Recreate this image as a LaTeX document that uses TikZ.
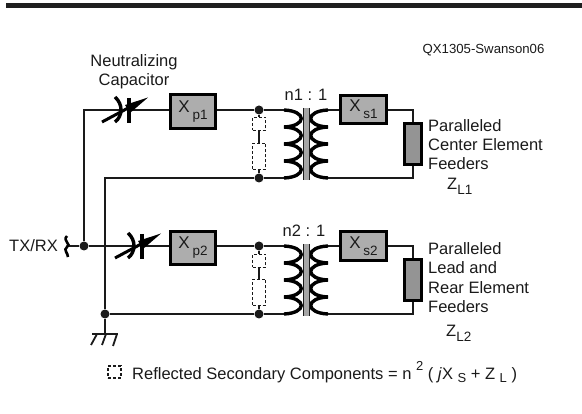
\documentclass[tikz,border=0pt]{standalone}
\usepackage{fontspec}
\setmainfont{Liberation Sans}
\definecolor{ink}{HTML}{1A1A1A}
\tikzset{
 wire/.style={draw=ink,line width=1.8pt},
 lbl/.style={font=\fontsize{16.5}{19.3}\selectfont,text=ink,inner sep=0pt},
 boxx/.style={draw=black,line width=3.2pt,fill=black!32,inner sep=0pt,text=ink,font=\fontsize{17}{18}\selectfont},
 loadbox/.style={draw=black,line width=3.2pt,fill=black!42,inner sep=0pt},
 refl/.style={draw=ink,line width=1.2pt,densely dashed,fill=white,inner sep=0pt},
 dotnode/.style={circle,fill=ink,inner sep=0pt,minimum size=9pt},
 coil/.style={draw=black,line width=3.4pt},
 core/.style={draw=ink,line width=1.6pt},
 plate/.style={draw=black,line width=3.4pt}
}
\newcommand{\subx}[2]{#1\,\raisebox{-7pt}{\fontsize{13.5}{14}\selectfont #2}}
\begin{document}
\begin{tikzpicture}[x=1pt,y=-1pt]
\useasboundingbox (0,0) rectangle (582,414);
\fill[black!88] (6,3.5) rectangle (582,8);
% text
\node[lbl,font=\fontsize{13.2}{15}\selectfont] (tag) at (483.5,50) {QX1305-Swanson06};
\node[lbl,align=center] (neut) at (134,71.5) {Neutralizing\\Capacitor};
\node[lbl] (n1) at (306,95) {n1 : 1};
\node[lbl] (n2) at (304,231) {n2 : 1};
\node[lbl,align=left,anchor=west] (c1) at (428,144.5) {Paralleled\\Center Element\\Feeders};
\node[lbl,anchor=west] (z1) at (447,186) {Z\raisebox{-5pt}{\fontsize{13.5}{14}\selectfont L1}};
\node[lbl,align=left,anchor=west] (c2) at (428,277.5) {Paralleled\\Lead and\\Rear Element\\Feeders};
\node[lbl,anchor=west] (z2) at (446,333) {Z\raisebox{-5pt}{\fontsize{13.5}{14}\selectfont L2}};
\node[lbl,anchor=east] (tx) at (58,246) {TX/RX};
\node[lbl,anchor=west] (eq) at (132,372) {Reflected Secondary Components = n \raisebox{1ex}{\fontsize{13}{14}\selectfont 2} ( \textit{j}X \raisebox{-0.4ex}{\fontsize{13}{14}\selectfont S} + Z \raisebox{-0.4ex}{\fontsize{13}{14}\selectfont L} )};
\node[refl,line width=1.6pt,minimum width=13pt,minimum height=12pt] (key) at (114.5,372) {};
% junction coordinates
\coordinate (txa) at (67,246);
\node[dotnode] (d0) at (84,246) {};
\node[dotnode] (d1) at (259,110) {};
\node[dotnode] (d2) at (259,178) {};
\node[dotnode] (d3) at (259,246) {};
\node[dotnode] (d4) at (259,314) {};
\node[dotnode] (d5) at (105,314) {};
\coordinate (tl) at (84,110);
\coordinate (il) at (105,178);
\coordinate (gnd) at (105,334);
\coordinate (p1t) at (285,110); \coordinate (p1b) at (285,178);
\coordinate (p2t) at (285,246); \coordinate (p2b) at (285,314);
\coordinate (s1t) at (327,110); \coordinate (s1b) at (327,178);
\coordinate (s2t) at (327,246); \coordinate (s2b) at (327,314);
\coordinate (r1t) at (413,110); \coordinate (r1b) at (413,178);
\coordinate (r2t) at (413,246); \coordinate (r2b) at (413,314);
\coordinate (c1a) at (120,110); \coordinate (c1b) at (129,110);
\coordinate (c2a) at (133,246); \coordinate (c2b) at (142,246);
% boxes
\node[boxx,minimum width=45.5pt,minimum height=34pt] (xp1) at (193,111.5) {\subx{X}{p1}};
\node[boxx,minimum width=45.5pt,minimum height=33pt] (xp2) at (193,248) {\subx{X}{p2}};
\node[boxx,minimum width=46.5pt,minimum height=28pt] (xs1) at (363.5,109.5) {\subx{X}{s1}};
\node[boxx,minimum width=46.5pt,minimum height=29pt] (xs2) at (363.5,246) {\subx{X}{s2}};
\node[loadbox,minimum width=17pt,minimum height=41pt] (l1) at (413,144) {};
\node[loadbox,minimum width=17pt,minimum height=41pt] (l2) at (413,280) {};
% wires
\draw[wire] (c1a) -- (tl) -- (d0);
\draw[wire] (c1b) -- (xp1.west |- c1b);
\draw[wire] (xp1.east |- d1) -- (d1) -- (p1t);
\draw[wire] (p1b) -- (d2) -- (il) -- (d5);
\draw[wire] (txa) -- (d0) -- (c2a);
\draw[wire] (c2b) -- (xp2.west |- c2b);
\draw[wire] (xp2.east |- d3) -- (d3) -- (p2t);
\draw[wire] (p2b) -- (d4) -- (d5) -- (gnd);
\draw[wire] (s1t) -- (xs1.west |- s1t);
\draw[wire] (xs1.east |- r1t) -- (r1t) -- (l1.north);
\draw[wire] (l1.south) -- (r1b) -- (s1b);
\draw[wire] (s2t) -- (xs2.west |- s2t);
\draw[wire] (xs2.east |- r2t) -- (r2t) -- (l2.north);
\draw[wire] (l2.south) -- (r2b) -- (s2b);
% reflected
\draw[wire] (d1) -- (d2);
\draw[wire] (d3) -- (d4);
\node[refl,minimum width=13pt,minimum height=13pt] (ra1) at (259,124) {};
\node[refl,minimum width=13pt,minimum height=26pt] (rb1) at (259,156.5) {};
\node[refl,minimum width=13pt,minimum height=13pt] (ra2) at (259,261) {};
\node[refl,minimum width=13pt,minimum height=26pt] (rb2) at (259,292.5) {};
% transformer coils
\foreach \y in {110,246}{
 \begin{scope}[shift={(0,\y)}]
 \foreach \k in {0,1,2,3}{
  \draw[coil] (284,{\k*17}) .. controls (307,{\k*17+1}) and (307,{\k*17+16}) .. (284,{\k*17+17});
  \draw[coil] (328,{\k*17}) .. controls (305,{\k*17+1}) and (305,{\k*17+16}) .. (328,{\k*17+17});
 }
 \fill[black!35] (303.5,-2) rectangle (309.5,70);
 \draw[core] (303.5,-2) -- (303.5,70);
 \draw[core] (309.5,-2) -- (309.5,70);
 \end{scope}
}
% capacitors
\foreach \x/\y in {120/110,133/246}{
 \draw[plate] (\x-5,\y-13) .. controls (\x+3,\y-6) and (\x+3,\y+6) .. (\x-5,\y+12);
 \draw[plate] (\x+9,\y-12) -- (\x+9,\y+13);
 \draw[line width=3pt,draw=black] (\x-18,\y+12) -- (\x+10,\y-3);
 \fill[black] (\x+28,\y-12.5) -- (\x+5,\y-5) -- (\x+10,\y+3) -- cycle;
}
% TX/RX symbol
\draw[line width=2.6pt,draw=black] (67,236) .. controls (62,241) and (72,244) .. (67,247) .. controls (63,250) and (68,253) .. (68,257);
% ground
\draw[wire] (92,334) -- (118,334);
\draw[wire] (97,334) -- (91,345);
\draw[wire] (106,334) -- (102,345);
\draw[wire] (117,334) -- (113,346);
\end{tikzpicture}
\end{document}
